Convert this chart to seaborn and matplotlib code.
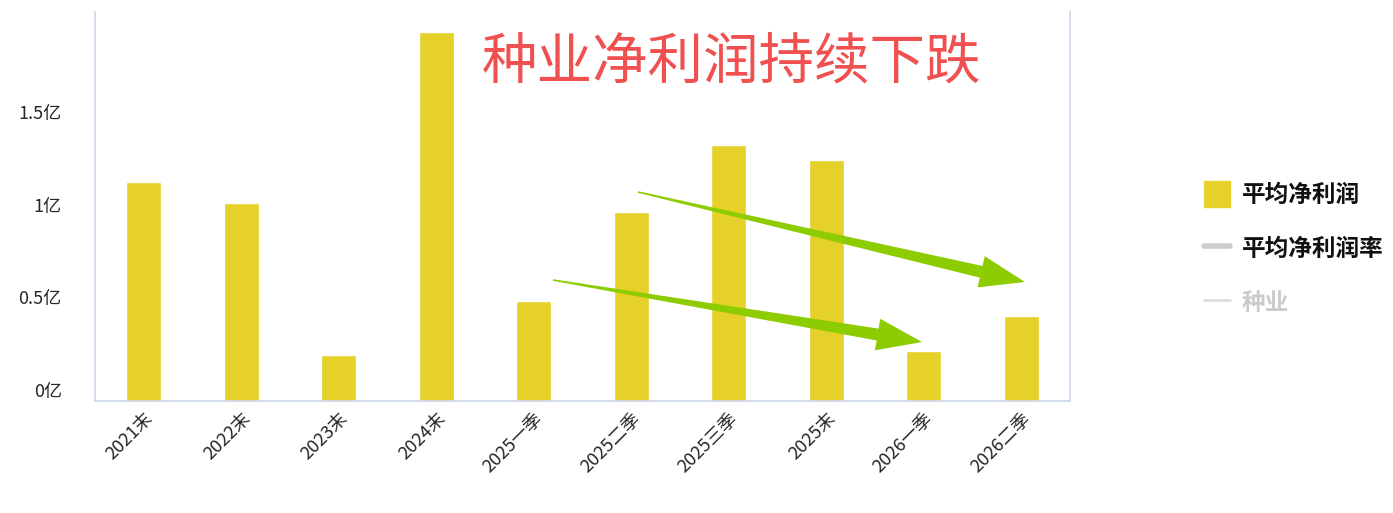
import matplotlib.pyplot as plt
import seaborn as sns
import pandas as pd
from matplotlib.lines import Line2D
from matplotlib.patches import Patch, Polygon
import numpy as np

periods = ['2021末', '2022末', '2023末', '2024末', '2025一季', '2025二季',
           '2025三季', '2025末', '2026一季', '2026二季']
net_profit = [1.18, 1.07, 0.25, 1.99, 0.54, 1.02, 1.38, 1.30, 0.27, 0.46]  # 亿
ytick_vals = [0, 0.5, 1, 1.5]
ytick_labels = ['0亿', '0.5亿', '1亿', '1.5亿']

sns.set_style('white')
plt.rcParams['font.family'] = ['Noto Sans CJK SC', 'DejaVu Sans']

W, H = 1393, 513
fig = plt.figure(figsize=(W / 100, H / 100), dpi=100)
ax = fig.add_axes([95 / W, (H - 401) / H, 975 / W, 389 / H])

df = pd.DataFrame({'period': periods, 'profit': net_profit})
sns.barplot(data=df, x='period', y='profit', color='#E6D12A', saturation=1,
            width=0.36, ax=ax)

ax.set_xlim(-0.5, 9.5)
ax.set_ylim(0, 2.1)
ax.set_xlabel('')
ax.set_ylabel('')
ax.set_yticks(ytick_vals)
ax.set_yticklabels(ytick_labels, fontsize=13)
for t in ax.get_yticklabels():
    t.set_va('bottom')
ax.set_xticks(range(len(periods)))
ax.set_xticklabels(periods, rotation=45, ha='right', rotation_mode='anchor',
                   fontsize=13)
ax.tick_params(axis='both', length=0, pad=6)
ax.tick_params(axis='y', pad=24)
for s in ['left', 'right', 'bottom']:
    ax.spines[s].set_color('#CCD6EB')
    ax.spines[s].set_linewidth(1.2)
ax.spines['top'].set_visible(False)

ax.text(0.397, 0.87, '种业净利润持续下跌', transform=ax.transAxes, fontsize=40,
        color='#F05050', va='center', ha='left')

# tapered green arrows (figure pixel coords)
def arrow(x0, y0, x1, y1):
    d = np.array([x1 - x0, y1 - y0], float)
    L = np.hypot(*d)
    u = d / L
    n = np.array([-u[1], u[0]])
    p0 = np.array([x0, y0], float)
    hb = p0 + u * (L - 45)
    pts = [p0 + n * 0.8, hb + n * 6, hb + n * 16, np.array([x1, y1], float),
           hb - n * 16, hb - n * 6, p0 - n * 0.8]
    pts = [(x / W, 1 - y / H) for x, y in pts]
    fig.patches.append(Polygon(pts, closed=True, transform=fig.transFigure,
                               color='#8CCC00', lw=0))

arrow(638, 192, 1025, 282)
arrow(553, 280, 922, 342)

handles = [Patch(color='#E6D12A'),
           Line2D([], [], color='#CCCCCC', lw=4),
           Line2D([], [], color='#DDDDDD', lw=2)]
leg = fig.legend(handles, ['平均净利润', '平均净利润率', '种业'],
                 loc='center left', bbox_to_anchor=(1183 / W, 1 - 248 / H),
                 frameon=False, fontsize=17, labelspacing=1.2,
                 handlelength=1.1, handleheight=1.3, handletextpad=0.5)
cols = ['#111111', '#111111', '#CCCCCC']
for t, c in zip(leg.get_texts(), cols):
    t.set_color(c)
    t.set_fontweight('bold')

fig.savefig('out.png', dpi=100)
